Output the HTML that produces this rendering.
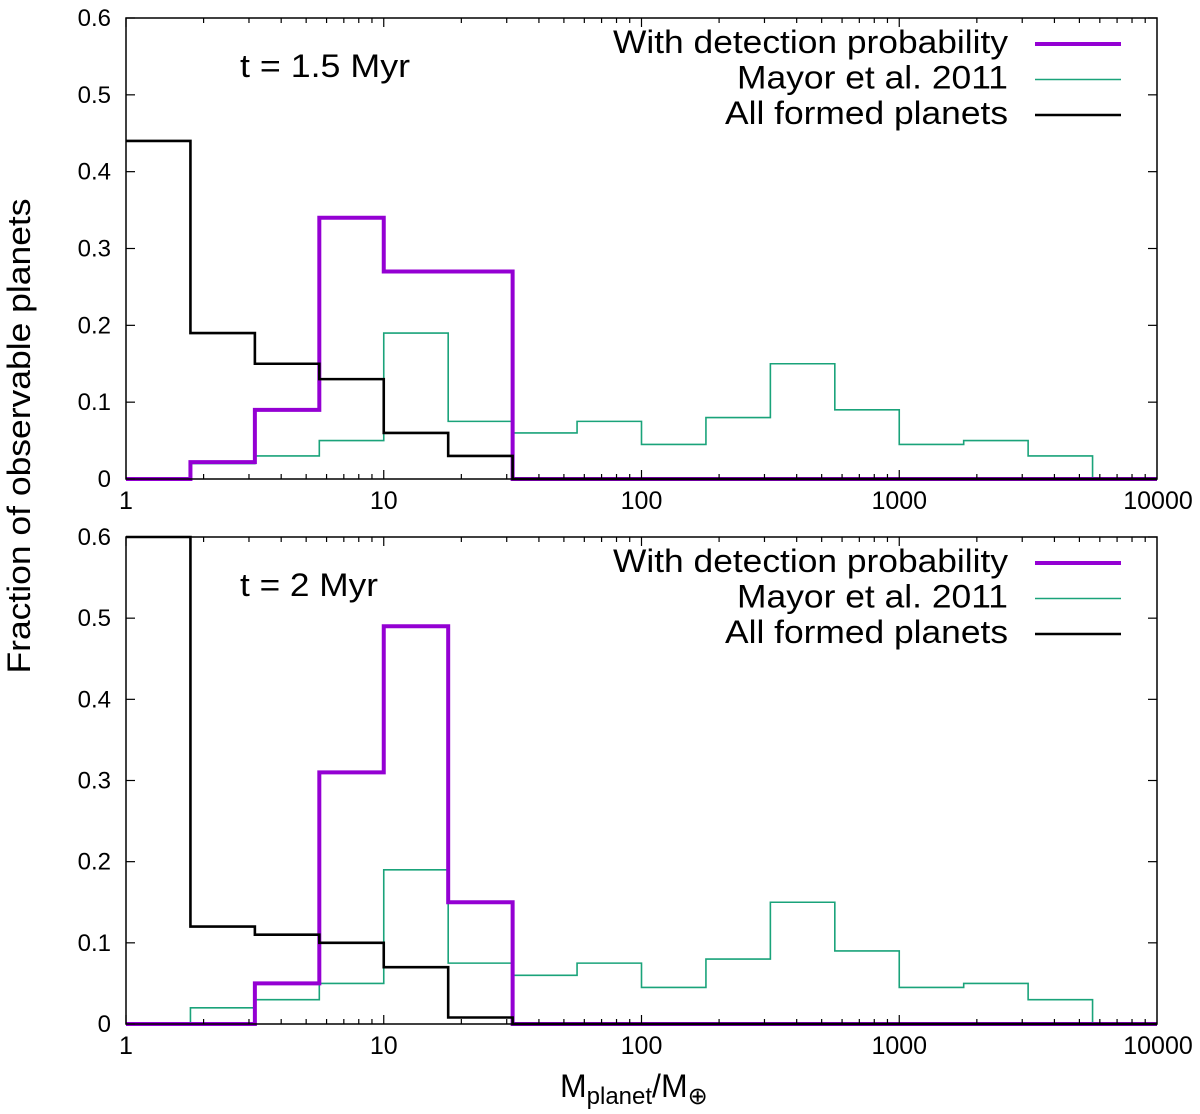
<!DOCTYPE html>
<html><head><meta charset="utf-8"><style>
body{margin:0;background:#fff}
svg{display:block;font-family:"Liberation Sans",sans-serif}
</style></head><body>
<svg id="chart" width="1200" height="1114" viewBox="0 0 1200 1114" xmlns="http://www.w3.org/2000/svg">
<text transform="translate(30,436) rotate(-90)" text-anchor="middle" font-size="32" textLength="475" lengthAdjust="spacingAndGlyphs">Fraction of observable planets</text>
<text x="560" y="1097" font-size="32">M<tspan font-size="24" dy="7">planet</tspan><tspan dy="-7">/M</tspan><tspan font-size="24" dy="7">⊕</tspan></text>
</svg>
<script>
const binEdgesLog = [0,0.25,0.5,0.75,1,1.25,1.5,1.75,2,2.25,2.5,2.75,3,3.25,3.5,3.75,4];
const mayor = [0,0.02,0.03,0.05,0.19,0.075,0.06,0.075,0.045,0.08,0.15,0.09,0.045,0.05,0.03,0,0];
const detTop = [0,0.022,0.09,0.34,0.27,0.27,0,0,0,0,0,0,0,0,0,0];
const allTop = [0.44,0.19,0.15,0.13,0.06,0.03,0,0,0,0,0,0,0,0,0,0];
const detBot = [0,0,0.05,0.31,0.49,0.15,0,0,0,0,0,0,0,0,0,0];
const allBot = [0.6,0.12,0.11,0.10,0.07,0.008,0,0,0,0,0,0,0,0,0,0];
const yTicks = [0,0.1,0.2,0.3,0.4,0.5,0.6];
const xTickLabels = ["1","10","100","1000","10000"];
const panelTitles = ["t = 1.5 Myr","t = 2 Myr"];
const legendLabels = ["With detection probability","Mayor et al. 2011","All formed planets"];

const NS="http://www.w3.org/2000/svg";
const svg=document.getElementById('chart');
const X0=126,X1=1157;
const xs=l=>X0+(X1-X0)*l/4;
function mk(tag,attrs,parent){const e=document.createElementNS(NS,tag);for(const k in attrs)e.setAttribute(k,attrs[k]);(parent||svg).appendChild(e);return e;}

const titleWidths=[170,138];
const legendWidths=[395,271,283];
const panels=[{top:18,bot:479,det:detTop,all:allTop,title:panelTitles[0]},{top:537,bot:1024,det:detBot,all:allBot,title:panelTitles[1]}];
panels.forEach((p,pi)=>{
  const ys=v=>p.bot-(p.bot-p.top)*v/0.6;
  const g=mk('g',{});
  
  
  function step(vals,color,w,name){
    let d='M'+xs(binEdgesLog[0])+','+ys(vals[0]);
    for(let i=0;i<vals.length;i++){
      d+=' L'+xs(binEdgesLog[i])+','+ys(vals[i])+' L'+xs(binEdgesLog[i+1])+','+ys(vals[i]);
    }
    const e=mk('path',{d:d,fill:'none',stroke:color,'stroke-width':w},g);
    
    
  }
  step(mayor.slice(0,16),'#1aa37a',1.6,'series-mayor-2011');
  step(p.det,'#9400d3',4,'series-detection-probability');
  step(p.all,'#000',2.6,'series-all-formed');
  const fr=mk('rect',{x:X0,y:p.top,width:X1-X0,height:p.bot-p.top,fill:'none',stroke:'#000','stroke-width':1.5},g);
  
  
  for(let dec=0;dec<4;dec++){
    for(let m=1;m<=9;m++){
      const l=dec+Math.log10(m);const x=xs(l);const len=m===1?9:5;
      mk('line',{x1:x,x2:x,y1:p.bot,y2:p.bot-len,stroke:'#000','stroke-width':1.2},g);
      mk('line',{x1:x,x2:x,y1:p.top,y2:p.top+len,stroke:'#000','stroke-width':1.2},g);
    }
  }
  xTickLabels.forEach((t,i)=>{
    const e=mk('text',{x:xs(i),y:p.bot+30,'text-anchor':'middle','font-size':25},g);
    if(i===4)e.setAttribute('x',xs(i)+1);
    e.textContent=t;
    
    
  });
  yTicks.forEach(v=>{
    const y=ys(v);
    mk('line',{x1:X0,x2:X0+9,y1:y,y2:y,stroke:'#000','stroke-width':1.2},g);
    mk('line',{x1:X1,x2:X1-9,y1:y,y2:y,stroke:'#000','stroke-width':1.2},g);
    const e=mk('text',{x:111,y:y+8,'text-anchor':'end','font-size':24},g);
    e.textContent=v===0?'0':v.toFixed(1);
    
    
  });
  const tt=mk('text',{x:240,y:p.top+59,'font-size':32,textLength:titleWidths[pi],lengthAdjust:'spacingAndGlyphs'},g);
  tt.textContent=p.title;
  
  
  const colors=['#9400d3','#1aa37a','#000'],widths=[4,1.6,2.6];
  legendLabels.forEach((lab,i)=>{
    const y=p.top+24+i*35.5;
    const e=mk('text',{x:1008-legendWidths[i],y:y+11,'font-size':32,textLength:legendWidths[i],lengthAdjust:'spacingAndGlyphs'},g);
    e.textContent=lab;
    
    
    const l=mk('line',{x1:1035,x2:1121,y1:y+2,y2:y+2,stroke:colors[i],'stroke-width':widths[i]},g);
    
    
  });
});
</script>
</body></html>
